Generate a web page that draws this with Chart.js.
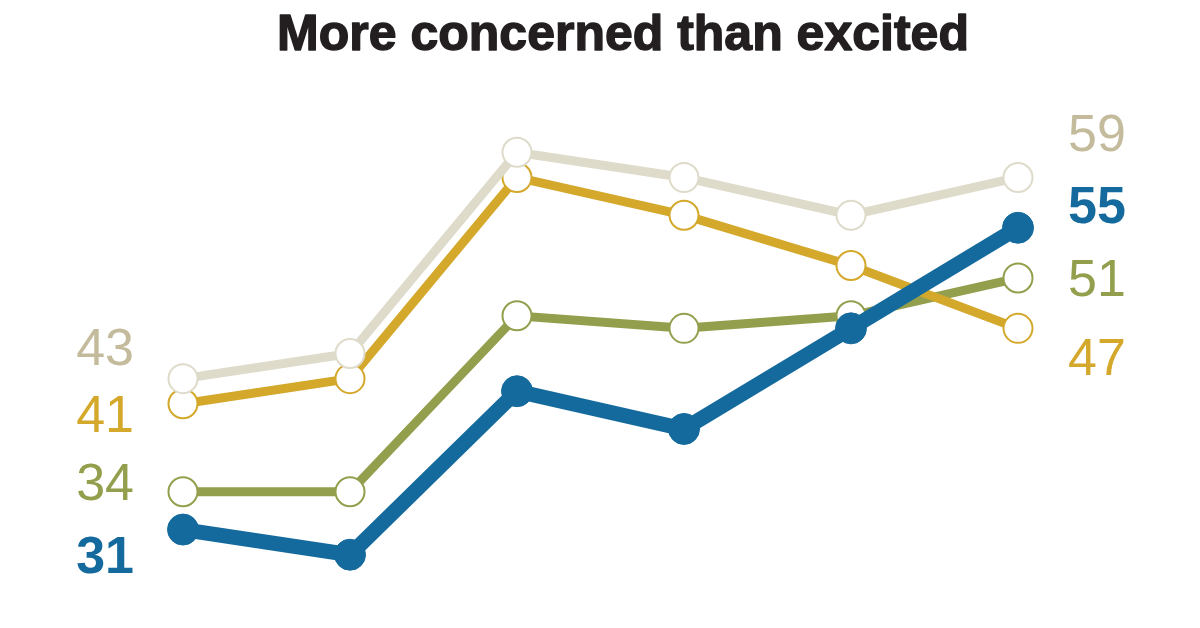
<!DOCTYPE html>
<html>
<head>
<meta charset="utf-8">
<script src="https://cdn.jsdelivr.net/npm/chart.js@4/dist/chart.umd.min.js"></script>
<style>
  html, body { margin: 0; padding: 0; background: #fff; }
  #chart { display: block; }
</style>
</head>
<body>
<canvas id="chart" width="1200" height="628"></canvas>
<script>
// survey waves (not labelled in the original)
const waves = ['W1', 'W2', 'W3', 'W4', 'W5', 'W6'];

// % more concerned than excited, per group
const beigeVals = [43, 45, 61, 59, 56, 59];
const goldVals  = [41, 43, 59, 56, 52, 47];
const greenVals = [34, 34, 48, 47, 48, 51];
const blueVals  = [31, 29, 42, 39, 47, 55];

const titleText = 'More concerned than excited';

// end labels: pixel shift of the text baseline from its point
const labelShift = {
  blue:  { left: 43, right: -5 },
  beige: { left: -14, right: -26 },
  gold:  { left: 28, right: 47 },
  green: { left: 8, right: 18 }
};

const colors = {
  beige: '#dedbca', beigeText: '#c3bb9c',
  gold: '#d4a82b', green: '#949f4d', blue: '#156a9d'
};

function openCircles(key, vals, color) {
  return {
    key: key,
    data: vals,
    borderColor: color,
    borderWidth: 9,
    pointRadius: 14.5,
    pointBorderWidth: 2,
    pointBackgroundColor: '#fff',
    pointBorderColor: color,
    tension: 0,
    clip: false
  };
}

// first dataset is drawn on top
const datasets = [
  {
    key: 'blue',
    data: blueVals,
    borderColor: colors.blue,
    borderWidth: 15,
    pointRadius: 15.5,
    pointBorderWidth: 1,
    pointBackgroundColor: colors.blue,
    pointBorderColor: colors.blue,
    tension: 0,
    clip: false
  },
  openCircles('beige', beigeVals, colors.beige),
  openCircles('gold', goldVals, colors.gold),
  openCircles('green', greenVals, colors.green)
];

const textColor = { blue: colors.blue, beige: colors.beigeText, gold: colors.gold, green: colors.green };

const endLabels = {
  id: 'endLabels',
  afterDatasetsDraw(chart) {
    const ctx = chart.ctx;
    const y = chart.scales.y;
    ctx.save();
    ctx.textBaseline = 'alphabetic';
    chart.data.datasets.forEach(ds => {
      const bold = ds.key === 'blue';
      ctx.font = (bold ? 'bold ' : '') + '52px "Liberation Sans", Arial, sans-serif';
      ctx.fillStyle = textColor[ds.key];
      const first = ds.data[0], last = ds.data[ds.data.length - 1];
      ctx.textAlign = 'right';
      ctx.fillText(first, 134, y.getPixelForValue(first) + labelShift[ds.key].left);
      ctx.textAlign = 'left';
      ctx.fillText(last, 1068, y.getPixelForValue(last) + labelShift[ds.key].right);
    });
    // heavier title: fill plus a thin stroke
    ctx.font = 'bold 50px "Liberation Sans", Arial, sans-serif';
    ctx.fillStyle = '#231f20';
    ctx.strokeStyle = '#231f20';
    ctx.lineWidth = 1.4;
    ctx.lineJoin = 'round';
    ctx.textAlign = 'center';
    ctx.fillText(titleText, 623, 50);
    ctx.strokeText(titleText, 623, 50);
    ctx.restore();
  }
};

new Chart(document.getElementById('chart'), {
  type: 'line',
  data: { labels: waves, datasets: datasets },
  options: {
    responsive: false,
    animation: false,
    devicePixelRatio: 1,
    layout: { padding: { left: 183, right: 182, top: 102, bottom: 23 } },
    plugins: { legend: { display: false }, tooltip: { enabled: false }, title: { display: false } },
    scales: {
      x: { display: false, offset: false },
      y: { display: false, min: 25, max: 65 }
    }
  },
  plugins: [endLabels]
});
</script>
</body>
</html>
